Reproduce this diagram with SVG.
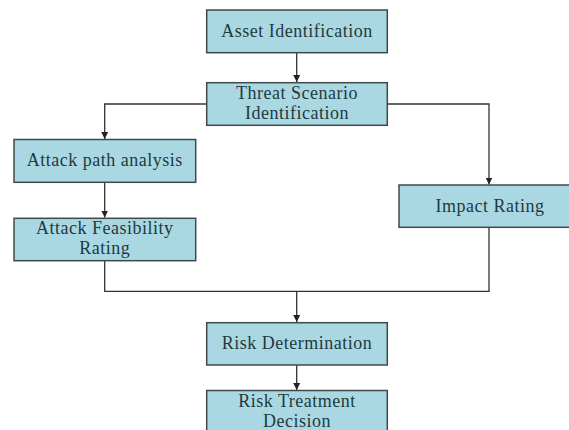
<svg xmlns="http://www.w3.org/2000/svg" width="569" height="430" viewBox="0 0 569 430">
<style>
.box{fill:#a9d8e2;stroke:#3f4a4c;stroke-width:1.5}
.lbl{font-family:"Liberation Serif","DejaVu Serif",serif;font-size:18px;letter-spacing:0.5px;fill:#1f3a3f;text-anchor:middle}
.con{fill:none;stroke:#333;stroke-width:1.3}
</style>
<defs>
<marker id="ah" markerWidth="8" markerHeight="8" refX="7" refY="4" orient="auto" markerUnits="userSpaceOnUse">
<path d="M0,0.5 L7,4 L0,7.5 Z" fill="#222"/>
</marker>
</defs>
<rect width="569" height="430" fill="#fff"/>
<g id="connectors">
<path class="con" d="M296.7,52.7 V82" marker-end="url(#ah)"/>
<path class="con" d="M206.7,104 H104.7 V139" marker-end="url(#ah)"/>
<path class="con" d="M387.3,104 H489 V184.5" marker-end="url(#ah)"/>
<path class="con" d="M104.7,182.3 V217.5" marker-end="url(#ah)"/>
<path class="con" d="M104.7,260.7 V291.3 H489 V227.3"/>
<path class="con" d="M296.7,291.3 V322" marker-end="url(#ah)"/>
<path class="con" d="M296.7,365 V390" marker-end="url(#ah)"/>
</g>
<g id="asset">
<rect class="box" x="206.7" y="10" width="180.6" height="42.7"/>
<text class="lbl" x="297" y="37">Asset Identification</text>
</g>
<g id="threat">
<rect class="box" x="206.7" y="82.7" width="180.6" height="42.6"/>
<text class="lbl" x="297" y="99">Threat Scenario</text>
<text class="lbl" x="297" y="119">Identification</text>
</g>
<g id="attackpath">
<rect class="box" x="14" y="139.5" width="181.7" height="42.8"/>
<text class="lbl" x="104.8" y="166">Attack path analysis</text>
</g>
<g id="feasibility">
<rect class="box" x="14" y="218.3" width="181.7" height="42.4"/>
<text class="lbl" x="104.8" y="234">Attack Feasibility</text>
<text class="lbl" x="104.8" y="254">Rating</text>
</g>
<g id="impact">
<rect class="box" x="399" y="185" width="182" height="42.3"/>
<text class="lbl" x="490" y="212">Impact Rating</text>
</g>
<g id="riskdet">
<rect class="box" x="206.7" y="322.7" width="180.6" height="42.3"/>
<text class="lbl" x="297" y="349">Risk Determination</text>
</g>
<g id="risktreat">
<rect class="box" x="206.7" y="390.5" width="180.6" height="50"/>
<text class="lbl" x="297" y="406.5">Risk Treatment</text>
<text class="lbl" x="297" y="426.5">Decision</text>
</g>
</svg>
